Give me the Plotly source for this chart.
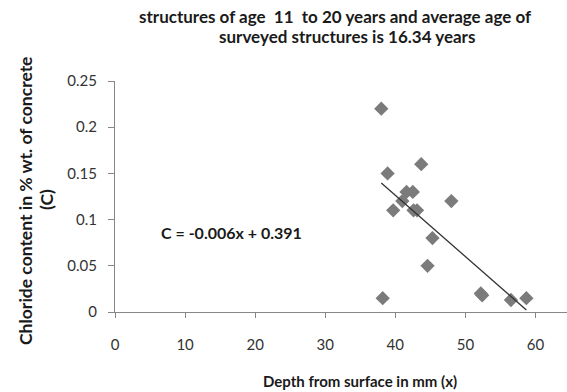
import numpy as np
import plotly.graph_objects as go

depth_mm = [38.0, 38.9, 43.7, 41.6, 42.5, 41.0, 39.7, 42.6, 43.1, 48.0, 45.3, 44.6, 38.2, 52.2, 52.4, 56.5, 58.7]
chloride = [0.220, 0.150, 0.160, 0.130, 0.130, 0.120, 0.110, 0.110, 0.110, 0.120, 0.080, 0.050, 0.015, 0.020, 0.018, 0.013, 0.015]

title_line1 = "structures of age  11  to 20 years and average age of"
title_line2 = "surveyed structures is 16.34 years"
x_title = "Depth from surface in mm (x)"
y_title_line1 = "Chloride content in % wt. of concrete"
y_title_line2 = "(C)"
eq_text = "C = -0.006x + 0.391"
x_ticks = [0, 10, 20, 30, 40, 50, 60]
y_ticks = [0, 0.05, 0.1, 0.15, 0.2, 0.25]
y_labels = ["0", "0.05", "0.1", "0.15", "0.2", "0.25"]

slope, intercept = np.polyfit(depth_mm, chloride, 1)
xf = np.array([min(depth_mm), max(depth_mm)])
yf = slope * xf + intercept

FONT = "Lato"
L, T, W, H = 115, 81, 452, 231


def px(xp):
    return (xp - L) / W


def py(yp):
    return (T + H - yp) / H


fig = go.Figure()
fig.add_trace(go.Scatter(x=depth_mm, y=chloride, mode="markers",
                         marker=dict(symbol="diamond", size=11, color="#7b7b7b"),
                         showlegend=False))
fig.add_trace(go.Scatter(x=xf, y=yf, mode="lines",
                         line=dict(color="#333333", width=1.3), showlegend=False))

fig.update_layout(
    width=567, height=392,
    margin=dict(l=L, r=567 - L - W, t=T, b=392 - T - H),
    paper_bgcolor="white", plot_bgcolor="white",
    font=dict(family=FONT, color="#333333", size=14),
    xaxis=dict(range=[0, 64.5], tickvals=x_ticks, showline=True, linecolor="#878787",
               linewidth=1, ticks="outside", ticklen=5, tickcolor="#878787",
               showgrid=False, zeroline=False, ticklabelstandoff=14,
               tickfont=dict(family=FONT, size=15, color="#333333")),
    yaxis=dict(range=[0, 0.25], tickvals=y_ticks, ticktext=y_labels, showline=True,
               linecolor="#878787", linewidth=1, ticks="outside", ticklen=6,
               tickcolor="#878787", showgrid=False, zeroline=False, ticklabelstandoff=8,
               tickfont=dict(family=FONT, size=15, color="#333333")),
)

bold = dict(family=FONT, color="#1a1a1a")


def label(text, x, y, size, angle=0):
    fig.add_annotation(text="<b>" + text + "</b>", xref="paper", yref="paper",
                       x=px(x), y=py(y), xanchor="center", yanchor="middle",
                       textangle=angle, showarrow=False, font=dict(size=size, **bold))


label(title_line1, 335, 16, 17)
label(title_line2, 347, 36, 17)
label(x_title, 360, 381, 15)
label(y_title_line1, 25, 201, 17.5, -90)
label(y_title_line2, 46, 200, 17.5, -90)
label(eq_text, 231, 233, 16)

fig.write_html("out.html")
